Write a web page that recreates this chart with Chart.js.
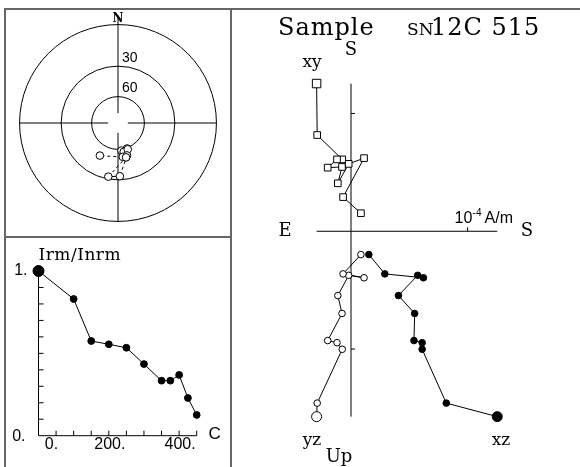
<!DOCTYPE html>
<html>
<head>
<meta charset="utf-8">
<script src="https://cdn.jsdelivr.net/npm/chart.js@4.4.1/dist/chart.umd.min.js"></script>
<style>
  body { margin: 0; background: #fff; width: 580px; height: 467px; position: relative; overflow: hidden; }
  canvas { position: absolute; }
  .rule { position: absolute; background: #666; }
</style>
</head>
<body>
<div class="rule" style="left:4px;top:8px;width:576px;height:2px"></div>
<div class="rule" style="left:4px;top:8px;width:2px;height:459px"></div>
<div class="rule" style="left:230px;top:8px;width:2px;height:459px"></div>
<div class="rule" style="left:4px;top:236px;width:227px;height:2px"></div>
<canvas id="stereo" width="224" height="226" style="left:6px;top:10px"></canvas>
<canvas id="decay" width="224" height="229" style="left:6px;top:238px"></canvas>
<canvas id="zijd" width="348" height="457" style="left:232px;top:10px"></canvas>
<script>
// demagnetisation steps (C) and remaining intensity
const temps = [0, 100, 150, 200, 250, 300, 350, 375, 400, 425, 450];
const irmRatio = [1.0, 0.83, 0.575, 0.555, 0.534, 0.435, 0.334, 0.334, 0.369, 0.229, 0.126];

// vector components per step, 10^-4 A/m
const compX = [1.254, 0.817, 0.61, 0.61, 0.54, 0.546, 0.407, 0.572, 0.621, 0.29, 0.153];
const compY = [-0.295, -0.29, -0.075, -0.12, -0.2, -0.077, -0.113, -0.02, 0.112, -0.068, 0.085];
const compZ = [-1.574, -1.459, -1.002, -0.946, -0.928, -0.698, -0.546, -0.374, -0.395, -0.362, -0.198];

// axis ticks
const tempTicks = [50, 100, 150, 200, 250, 300, 350, 400, 450];
const tempLabels = [0, 200, 400];
const ratioTicks = [0.1, 0.2, 0.3, 0.4, 0.5, 0.6, 0.7, 0.8, 0.9, 1.0];
const ringIncs = [0, 30, 60];
const zijdTicksH = [1];
const zijdTicksV = [1, -1];

const SERIF = '"DejaVu Serif", serif';
const SANS = '"Liberation Sans", Arial, sans-serif';
const deg = Math.PI / 180;

// Wulff net radius for a given inclination
const wulff = inc => Math.tan((90 - Math.abs(inc)) * deg / 2);

function text(ctx, str, x, y, font, align = 'center', base = 'middle') {
  ctx.font = font;
  ctx.textAlign = align;
  ctx.textBaseline = base;
  ctx.fillText(str, x, y);
}

const baseOpts = {
  responsive: false,
  animation: false,
  devicePixelRatio: 1,
  events: [],
  plugins: { legend: { display: false }, tooltip: { enabled: false } }
};

// ---------- stereonet ----------
const stereoPts = compX.map((n, i) => {
  const h = Math.hypot(n, compY[i]);
  const inc = Math.atan2(Math.abs(compZ[i]), h) / deg;
  const rho = wulff(inc);
  return { x: -compY[i] / h * rho, y: -n / h * rho };
});
const dashedLegs = [6, 8, 9];

const stereoFrame = {
  id: 'stereoFrame',
  beforeDatasetsDraw(chart) {
    const { ctx, scales: { x, y } } = chart;
    const cx = x.getPixelForValue(0), cy = y.getPixelForValue(0);
    const R = x.getPixelForValue(1) - cx;
    const gap = R * 0.1;
    ctx.save();
    ctx.strokeStyle = '#000';
    ctx.lineWidth = 1;
    ringIncs.forEach(inc => {
      ctx.beginPath();
      ctx.arc(cx, cy, R * wulff(inc), 0, 2 * Math.PI);
      ctx.stroke();
    });
    ctx.beginPath();
    ctx.moveTo(cx - R, cy); ctx.lineTo(cx - gap, cy);
    ctx.moveTo(cx + gap, cy); ctx.lineTo(cx + R, cy);
    ctx.moveTo(cx, cy - R - 9); ctx.lineTo(cx, cy - gap);
    ctx.moveTo(cx, cy + gap); ctx.lineTo(cx, cy + R);
    ctx.stroke();
    ctx.fillStyle = '#000';
    text(ctx, 'N', cx, cy - R - 6, 'bold 12px ' + SERIF);
    ringIncs.slice(1).forEach(inc => {
      text(ctx, String(inc), cx + 4, cy - R * wulff(inc) - 1, '14px ' + SANS, 'left', 'bottom');
    });
    ctx.restore();
  }
};

new Chart(document.getElementById('stereo'), {
  type: 'scatter',
  data: {
    datasets: [{
      data: stereoPts,
      showLine: true,
      borderColor: '#000',
      borderWidth: 1,
      pointRadius: 3.8,
      pointBackgroundColor: '#fff',
      pointBorderColor: '#000',
      pointBorderWidth: 1,
      segment: { borderDash: c => dashedLegs.includes(c.p0DataIndex) ? [3, 3] : undefined },
      clip: false
    }]
  },
  options: {
    ...baseOpts,
    layout: { padding: 0 },
    scales: {
      x: { type: 'linear', display: false, min: -1.087, max: 1.087 },
      y: { type: 'linear', display: false, min: -1.097, max: 1.097 }
    }
  },
  plugins: [stereoFrame]
});

// ---------- intensity decay ----------
const decayAxes = {
  id: 'decayAxes',
  beforeDatasetsDraw(chart) {
    const { ctx, scales: { x, y } } = chart;
    const x0 = x.getPixelForValue(0), y0 = y.getPixelForValue(0);
    const x1 = x.getPixelForValue(450), yTop = y.getPixelForValue(1.02);
    ctx.save();
    ctx.strokeStyle = '#000';
    ctx.lineWidth = 1;
    ctx.beginPath();
    ctx.moveTo(x0, yTop); ctx.lineTo(x0, y0); ctx.lineTo(x1, y0);
    tempTicks.forEach(t => {
      const px = x.getPixelForValue(t);
      ctx.moveTo(px, y0); ctx.lineTo(px, y0 - 5);
    });
    ratioTicks.forEach(v => {
      const py = y.getPixelForValue(v);
      ctx.moveTo(x0, py); ctx.lineTo(x0 + 5, py);
    });
    ctx.stroke();
    ctx.fillStyle = '#000';
    tempLabels.forEach(t => {
      const px = t === 0 ? x0 + 13 : x.getPixelForValue(t) + 1;
      text(ctx, t + '.', px, y0 + 9, '16px ' + SANS);
    });
    text(ctx, '1.', x0 - 11, y.getPixelForValue(1), '16px ' + SANS, 'right');
    text(ctx, '0.', x0 - 13, y0 + 1, '16px ' + SANS, 'right');
    text(ctx, 'C', x1 + 18, y0 - 1, '17px ' + SANS);
    ctx.letterSpacing = '0.5px';
    text(ctx, 'Irm/Inrm', x0, y.getPixelForValue(1) - 15, '17px ' + SERIF, 'left');
    ctx.restore();
  }
};

new Chart(document.getElementById('decay'), {
  type: 'scatter',
  data: {
    datasets: [{
      data: temps.map((t, i) => ({ x: t, y: irmRatio[i] })),
      showLine: true,
      borderColor: '#000',
      borderWidth: 1,
      pointRadius: c => c.dataIndex === 0 ? 5.5 : 3.4,
      pointBackgroundColor: '#000',
      pointBorderColor: '#000',
      clip: false
    }]
  },
  options: {
    ...baseOpts,
    layout: { padding: { left: 32.5, right: 33.3, top: 33, bottom: 31.3 } },
    scales: {
      x: { type: 'linear', display: false, min: 0, max: 450 },
      y: { type: 'linear', display: false, min: 0, max: 1 }
    }
  },
  plugins: [decayAxes]
});

// ---------- orthogonal projection ----------
const hMin = Math.min(...compY, ...compX), hMax = Math.max(...compY, ...compX);
const vMin = Math.min(...compZ), vMax = Math.max(...compX);

const zijdAxes = {
  id: 'zijdAxes',
  beforeDatasetsDraw(chart) {
    const { ctx, scales: { x, y } } = chart;
    const ox = x.getPixelForValue(0), oy = y.getPixelForValue(0);
    ctx.save();
    ctx.strokeStyle = '#000';
    ctx.lineWidth = 1;
    ctx.beginPath();
    ctx.moveTo(x.getPixelForValue(hMin), oy); ctx.lineTo(x.getPixelForValue(hMax), oy);
    ctx.moveTo(ox, y.getPixelForValue(vMax)); ctx.lineTo(ox, y.getPixelForValue(vMin));
    zijdTicksH.forEach(v => {
      const px = x.getPixelForValue(v);
      ctx.moveTo(px, oy); ctx.lineTo(px, oy - 4);
    });
    zijdTicksV.forEach(v => {
      const py = y.getPixelForValue(v);
      ctx.moveTo(ox, py); ctx.lineTo(ox + 4, py);
    });
    ctx.stroke();

    ctx.fillStyle = '#000';
    // unit label above the horizontal tick
    const ux = x.getPixelForValue(1) - 13, uy = oy - 13;
    text(ctx, '10', ux, uy, '16px ' + SANS, 'left');
    text(ctx, '-4', ux + 18, uy - 5, '10px ' + SANS, 'left');
    text(ctx, 'A/m', ux + 30, uy, '16px ' + SANS, 'left');

    text(ctx, 'S', ox, 40, '18px ' + SERIF);
    text(ctx, 'xy', 80, 53, '17px ' + SERIF);
    text(ctx, 'E', 53, oy, '18px ' + SERIF);
    text(ctx, 'S', 295, oy, '18px ' + SERIF);
    text(ctx, 'yz', 80, 431, '17px ' + SERIF);
    text(ctx, 'Up', 107, 447, '18px ' + SERIF);
    text(ctx, 'xz', 269, 431, '17px ' + SERIF);

    ctx.letterSpacing = '1px';
    text(ctx, 'Sample', 46, 25, '24px ' + SERIF, 'left', 'alphabetic');
    text(ctx, '12C 515', 199, 25, '24px ' + SERIF, 'left', 'alphabetic');
    ctx.letterSpacing = '0px';
    text(ctx, 'SN', 175, 25, '17px ' + SERIF, 'left', 'alphabetic');
    ctx.restore();
  }
};

const lineSet = {
  showLine: true,
  borderColor: '#000',
  borderWidth: 1,
  pointBorderColor: '#000',
  pointBorderWidth: 1,
  clip: false
};

new Chart(document.getElementById('zijd'), {
  type: 'scatter',
  data: {
    datasets: [
      {
        ...lineSet,
        label: 'xy',
        data: compX.map((n, i) => ({ x: compY[i], y: n })),
        pointStyle: 'rect',
        pointRadius: c => c.dataIndex === 0 ? 6 : 4.7,
        pointBackgroundColor: '#fff'
      },
      {
        ...lineSet,
        label: 'yz',
        data: compZ.map((z, i) => ({ x: compY[i], y: z })),
        pointStyle: 'circle',
        pointRadius: c => c.dataIndex === 0 ? 5 : 3.3,
        pointBackgroundColor: '#fff'
      },
      {
        ...lineSet,
        label: 'xz',
        data: compZ.map((z, i) => ({ x: compX[i], y: z })),
        pointStyle: 'circle',
        pointRadius: c => c.dataIndex === 0 ? 5 : 3.3,
        pointBackgroundColor: '#000'
      }
    ]
  },
  options: {
    ...baseOpts,
    layout: { padding: 0 },
    scales: {
      x: { type: 'linear', display: false, min: -0.9605, max: 1.9037 },
      y: { type: 'linear', display: false, min: -1.942, max: 1.819 }
    }
  },
  plugins: [zijdAxes]
});
</script>
</body>
</html>
